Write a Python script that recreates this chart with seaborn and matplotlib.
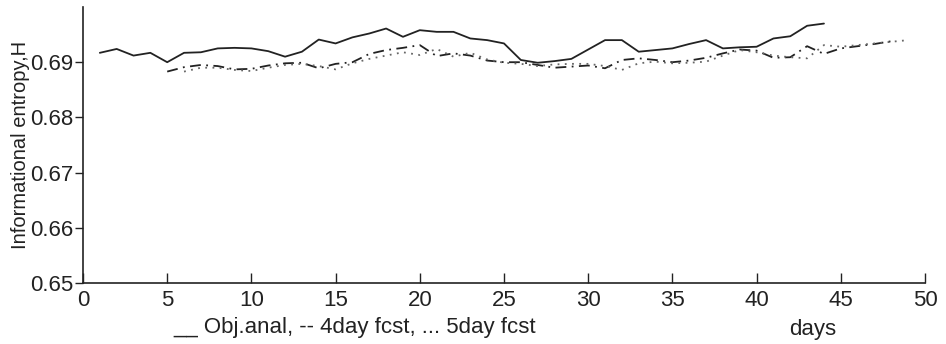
import numpy as np
import pandas as pd
import matplotlib
matplotlib.use("Agg")
import matplotlib.pyplot as plt
import seaborn as sns

# Daily informational entropy values
days_anal = list(range(1, 45))
obj_anal = [0.6917, 0.6924, 0.6912, 0.6917, 0.6900, 0.6917, 0.6918, 0.6925, 0.6926, 0.6925,
            0.6920, 0.6910, 0.6919, 0.6941, 0.6934, 0.6945, 0.6952, 0.6961, 0.6946, 0.6958,
            0.6955, 0.6955, 0.6943, 0.6940, 0.6934, 0.6904, 0.6899, 0.6902, 0.6906, 0.6923,
            0.6940, 0.6940, 0.6919, 0.6922, 0.6925, 0.6933, 0.6940, 0.6925, 0.6927, 0.6928,
            0.6943, 0.6947, 0.6966, 0.6970]

days_4 = list(range(5, 49))
fcst_4day = [0.6883, 0.6891, 0.6895, 0.6893, 0.6887, 0.6888, 0.6894, 0.6898, 0.6899, 0.6889,
             0.6897, 0.6900, 0.6915, 0.6922, 0.6926, 0.6931, 0.6911, 0.6916, 0.6912, 0.6903,
             0.6900, 0.6900, 0.6895, 0.6890, 0.6892, 0.6894, 0.6889, 0.6904, 0.6907, 0.6904,
             0.6900, 0.6903, 0.6908, 0.6916, 0.6923, 0.6921, 0.6908, 0.6909, 0.6929, 0.6915,
             0.6925, 0.6929, 0.6933, 0.6938]

days_5 = list(range(6, 50))
fcst_5day = [0.6883, 0.6890, 0.6890, 0.6886, 0.6884, 0.6890, 0.6895, 0.6897, 0.6893, 0.6887,
             0.6898, 0.6906, 0.6912, 0.6918, 0.6913, 0.6924, 0.6910, 0.6917, 0.6905, 0.6899,
             0.6897, 0.6893, 0.6896, 0.6897, 0.6897, 0.6893, 0.6886, 0.6898, 0.6901, 0.6898,
             0.6899, 0.6901, 0.6912, 0.6922, 0.6918, 0.6912, 0.6909, 0.6907, 0.6931, 0.6928,
             0.6931, 0.6934, 0.6937, 0.6940]

x_ticks = list(range(0, 51, 5))
y_ticks = [0.65, 0.66, 0.67, 0.68, 0.69]

sns.set_theme(style="white")
plt.rcParams["font.family"] = ["Liberation Sans", "DejaVu Sans"]

fig = plt.figure(figsize=(9.46, 3.44), dpi=100)
ax = fig.add_axes([83 / 946, 61 / 344, 842 / 946, 276 / 344])

ink = "#222222"
sns.lineplot(x=days_anal, y=obj_anal, ax=ax, color=ink, linewidth=1.3, linestyle="-")
sns.lineplot(x=days_4, y=fcst_4day, ax=ax, color=ink, linewidth=1.3,
             linestyle=(0, (6, 3, 1, 3)))
sns.lineplot(x=days_5, y=fcst_5day, ax=ax, color="#666666", linewidth=1.3,
             linestyle=(0, (1, 3)))

ax.set_xlim(0, 50)
ax.set_ylim(0.65, 0.70)
ax.set_xticks(x_ticks)
ax.set_xticklabels([str(t) for t in x_ticks])
ax.set_yticks(y_ticks)
ax.set_yticklabels([f"{t:.2f}" for t in y_ticks])

for side in ("top", "right"):
    ax.spines[side].set_visible(False)
for side in ("left", "bottom"):
    ax.spines[side].set_color(ink)
    ax.spines[side].set_linewidth(1.2)

ax.tick_params(axis="x", direction="in", length=7, width=1, colors=ink,
               labelsize=16, pad=5)
ax.tick_params(axis="y", direction="out", length=6, width=1, colors=ink,
               labelsize=16, pad=1)
ax.xaxis.set_ticks_position("bottom")
ax.yaxis.set_ticks_position("left")

ax.set_ylabel("Informational entropy,H", fontsize=14.5, color=ink, labelpad=0)
ax.set_xlabel("")

fig.text(355 / 946, 1 - 327 / 344, "__ Obj.anal, -- 4day fcst, ... 5day fcst",
         ha="center", va="center", fontsize=16, color=ink)
fig.text(813 / 946, 1 - 330 / 344, "days", ha="center", va="center",
         fontsize=16, color=ink)

fig.savefig("out.png", dpi=100, facecolor="white")
